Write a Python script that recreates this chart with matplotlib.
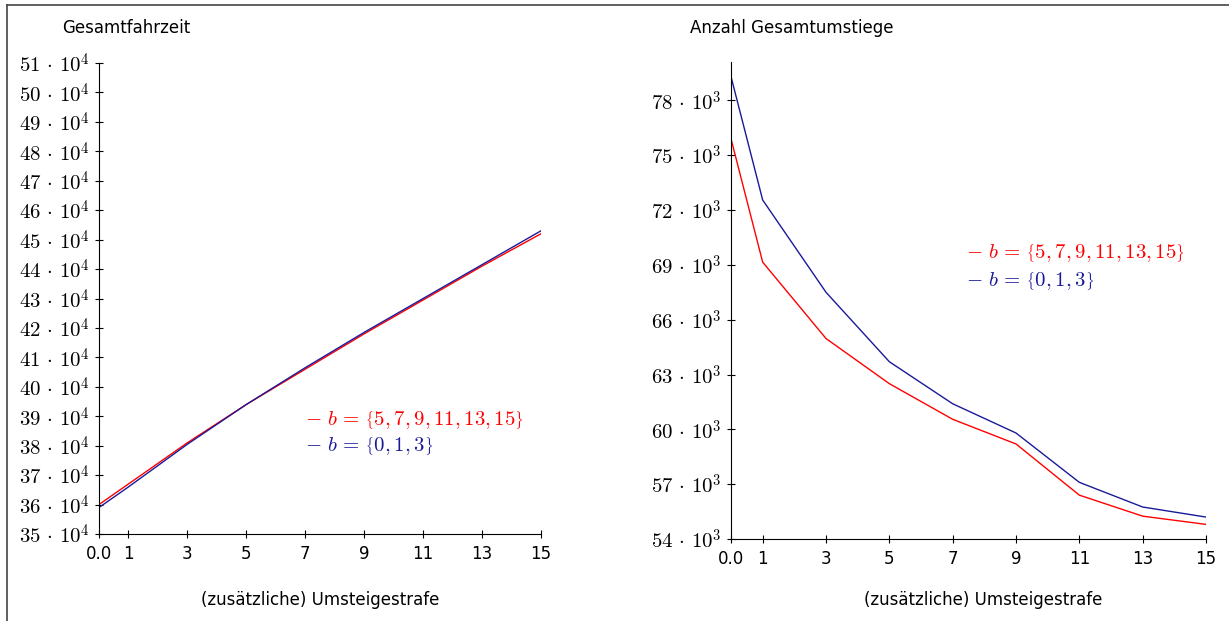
import numpy as np
import matplotlib.pyplot as plt
from matplotlib.lines import Line2D

plt.rcParams['mathtext.fontset'] = 'cm'
plt.rcParams['font.family'] = ['DejaVu Sans']

# Umsteigestrafe
strafe = [0, 1, 3, 5, 7, 9, 11, 13, 15]
xtick_labels = ['0.0', '1', '3', '5', '7', '9', '11', '13', '15']

# Gesamtfahrzeit (in 10^4)
fahrzeit_rot = [36.0, 36.7, 38.1, 39.4, 40.6, 41.8, 42.95, 44.1, 45.2]
fahrzeit_blau = [35.9, 36.6, 38.05, 39.4, 40.65, 41.85, 43.0, 44.15, 45.3]

# Anzahl Gesamtumstiege (in 10^3)
umstiege_rot = [75.9, 69.15, 64.97, 62.5, 60.55, 59.2, 56.4, 55.25, 54.8]
umstiege_blau = [79.3, 72.55, 67.5, 63.7, 61.4, 59.8, 57.1, 55.75, 55.2]

ticks_links = list(range(35, 52))
ticks_rechts = list(range(54, 79, 3))

label_rot = r'$-\ b \,=\, \left\{5, 7, 9, 11, 13, 15\right\}$'
label_blau = r'$-\ b \,=\, \left\{0, 1, 3\right\}$'

rot = '#ff0000'
blau = '#1a1a99'

fig = plt.figure(figsize=(12.29, 6.21), dpi=100)

# Rahmen (links und oben)
fig.add_artist(Line2D([7/1229, 7/1229], [0, 1 - 5/621], color='#444444', lw=1.2))
fig.add_artist(Line2D([7/1229, 1], [1 - 5/621, 1 - 5/621], color='#444444', lw=1.2))


def achse_stylen(ax):
    ax.spines['top'].set_visible(False)
    ax.spines['right'].set_visible(False)
    ax.tick_params(direction='inout', length=6, width=0.8)
    ax.tick_params(axis='y', pad=4)
    ax.tick_params(axis='x', pad=5)
    ax.set_xticks(strafe)
    ax.set_xticklabels(xtick_labels, fontsize=12)
    ax.set_xlim(0, 15)


# linker Plot
ax1 = fig.add_axes([99/1229, 1 - 534/621, 442/1229, 471/621])
ax1.plot(strafe, fahrzeit_rot, color=rot, lw=1)
ax1.plot(strafe, fahrzeit_blau, color=blau, lw=1)
achse_stylen(ax1)
ax1.set_ylim(35, 51)
ax1.set_yticks(ticks_links)
ax1.set_yticklabels([r'$%d \,\cdot\, 10^{4}$' % t for t in ticks_links], fontsize=15)
ax1.text(305/1229, 1 - 420/621, label_rot, color=rot, fontsize=15,
         transform=fig.transFigure, va='center', ha='left')
ax1.text(305/1229, 1 - 446/621, label_blau, color=blau, fontsize=15,
         transform=fig.transFigure, va='center', ha='left')
fig.text(62/1229, 1 - 28/621, 'Gesamtfahrzeit', fontsize=12, va='center', ha='left')
fig.text(320/1229, 1 - 600/621, '(zusätzliche) Umsteigestrafe', fontsize=12,
         va='center', ha='center')

# rechter Plot
ax2 = fig.add_axes([731/1229, 1 - 539/621, 475/1229, 477/621])
ax2.plot(strafe, umstiege_rot, color=rot, lw=1)
ax2.plot(strafe, umstiege_blau, color=blau, lw=1)
achse_stylen(ax2)
ax2.set_ylim(54, 80.1)
ax2.set_yticks(ticks_rechts)
ax2.set_yticklabels([r'$%d \,\cdot\, 10^{3}$' % t for t in ticks_rechts], fontsize=15)
ax2.text(966/1229, 1 - 253/621, label_rot, color=rot, fontsize=15,
         transform=fig.transFigure, va='center', ha='left')
ax2.text(966/1229, 1 - 281/621, label_blau, color=blau, fontsize=15,
         transform=fig.transFigure, va='center', ha='left')
fig.text(690/1229, 1 - 28/621, 'Anzahl Gesamtumstiege', fontsize=12, va='center', ha='left')
fig.text(983/1229, 1 - 600/621, '(zusätzliche) Umsteigestrafe', fontsize=12,
         va='center', ha='center')

fig.savefig('out.png', dpi=100)
